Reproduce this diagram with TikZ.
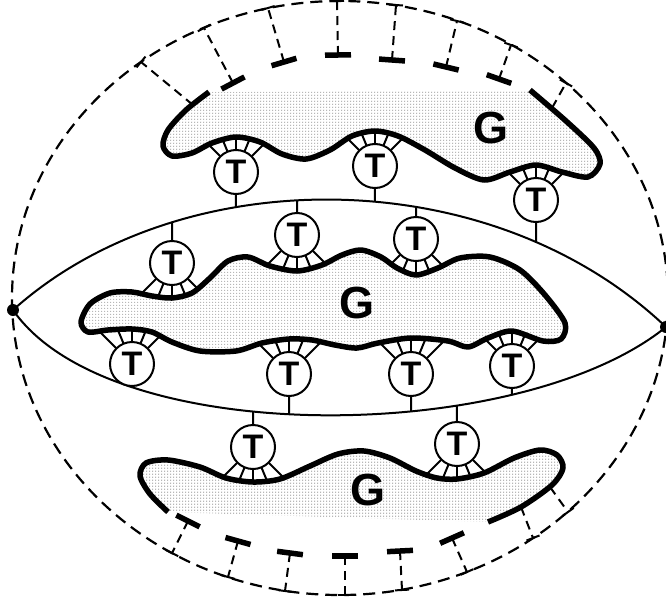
\documentclass[tikz,border=0pt]{standalone}
\usepackage{fontspec}
\setmainfont{Liberation Sans}
\usetikzlibrary{calc,intersections,patterns}

\tikzset{every picture/.style={line width=0.75pt}}
\pgfdeclarepatternformonly{stipple}{\pgfqpoint{-1pt}{-1pt}}{\pgfqpoint{2pt}{2pt}}{\pgfqpoint{3pt}{3pt}}{%
    \pgfpathcircle{\pgfqpoint{0pt}{0pt}}{0.65pt}\pgfusepath{fill}}

\begin{document}
\begin{tikzpicture}[
    x=1pt, y=-1pt,
    tcell/.style={circle, draw, line width=2pt, fill=white, minimum size=44pt,
        inner sep=0pt, font=\fontsize{34}{34}\selectfont\bfseries},
    glabel/.style={inner sep=0pt, font=\fontsize{45}{45}\selectfont\bfseries},
    tip/.style={circle, fill, minimum size=12pt, inner sep=0pt},
    lens/.style={line width=2pt},
    stem/.style={line width=2pt},
    spoke/.style={line width=2pt},
    shell/.style={line width=2.2pt, dash pattern=on 12pt off 7pt},
    tether/.style={line width=2pt, dash pattern=on 9pt off 6pt},
    shellbar/.style={line width=2pt},
    recbar/.style={line width=5.5pt},
    blob/.style={draw, line width=5.5pt, line join=round,
        preaction={fill=white}, pattern=stipple, pattern color=black!80},
]

    \useasboundingbox (0,0) rectangle (666,605);

    % outer shell
    \draw[shell] (340,298) ellipse [x radius=328, y radius=297];

    % lens
    \node[tip] (dl) at (13,310) {};
    \node[tip] (dr) at (666,327) {};
    \draw[lens, name path=lensup] (dl.center) .. controls (180,160) and (490,160) .. (dr.center);
    \draw[lens, name path=lensdown] (dl.center) .. controls (110,450) and (520,445) .. (dr.center);

    % T cells
    \node[tcell] (t1) at (236,172) {T};
    \node[tcell] (t2) at (375,166) {T};
    \node[tcell] (t3) at (536,200) {T};
    \node[tcell] (t4) at (172,263) {T};
    \node[tcell] (t5) at (297,235) {T};
    \node[tcell] (t6) at (416,239) {T};
    \node[tcell] (t7) at (132,364) {T};
    \node[tcell] (t8) at (289,374) {T};
    \node[tcell] (t9) at (411,374) {T};
    \node[tcell] (t10) at (512,366) {T};
    \node[tcell] (t11) at (253,447) {T};
    \node[tcell] (t12) at (457,444) {T};

    % stems to the lens
    \foreach \t/\d/\l in {t1/60/up, t2/60/up, t3/60/up, t4/-60/up, t5/-60/up, t6/-60/up,
        t7/60/down, t8/60/down, t9/60/down, t10/60/down, t11/-60/down, t12/-60/down}{
        \path[name path=ray] (\t.center) -- ++(0,\d);
        \draw[stem, name intersections={of=ray and lens\l}] (\t) -- (intersection-1);
    }

    % spokes to the gel
    \foreach \t/\s in {t1/-1, t2/-1, t3/-1, t4/1, t5/1, t6/1,
        t7/-1, t8/-1, t9/-1, t10/-1, t11/1, t12/1}
        \foreach \a in {45,67.5,90,112.5,135}
            \draw[spoke] (\t.center) ++({\s*\a}:22.5) -- ++({\s*\a}:30);

    % gels
    \path[blob] plot[smooth] coordinates {(209,92) (186,110) (168,130) (163,146) (172,156)
        (192,153) (212,143) (236,137) (260,142) (282,154) (306,159) (330,150) (352,136)
        (375,131) (398,136) (425,150) (455,168) (484,180) (510,172) (536,165) (562,172)
        (588,177) (600,164) (594,148) (566,121) (530,90)};
    \path[blob] plot[smooth cycle] coordinates {(81,322) (90,304) (110,293) (132,292)
        (152,296) (172,298) (192,293) (210,278) (228,261) (248,257) (270,266) (297,271)
        (322,265) (342,255) (361,250) (381,257) (397,268) (416,275) (438,268) (460,258)
        (490,257) (520,270) (545,295) (565,323) (561,339) (543,341) (512,331) (488,338)
        (468,347) (448,341) (411,338) (378,343) (357,348) (335,345) (312,340) (289,339)
        (262,343) (236,351) (200,351) (172,342) (152,332) (132,329) (108,330) (88,332)};
    \path[blob] plot[smooth] coordinates {(168,512) (150,494) (140,476) (146,463) (168,460)
        (200,467) (226,478) (253,482) (280,479) (310,466) (338,454) (364,451) (390,458)
        (416,471) (437,478) (457,479) (484,473) (514,458) (540,450) (557,455) (563,468)
        (552,485) (521,507) (488,522)};

    \node[glabel] (g1) at (491,128) {G};
    \node[glabel] (g2) at (357,303) {G};
    \node[glabel] (g3) at (368,490) {G};

    % tethers from the gel edge to the shell
    \foreach \ix/\iy/\ox/\oy/\k in {
        193/105/141/62/0, 233/83/204/28/1, 284/62/268/8/1, 338/55/337/1/1,
        392/60/396/5/1, 446/67/457/21/1, 499/79/511/45/1, 552/108/566/83/0,
        188/521/172/553/1, 238/541/228/577/1, 290/553/285/591/1, 345/556/345/595/1,
        400/551/402/590/1, 452/538/467/572/1, 521/507/533/538/0, 550/487/568/512/0}{
        \coordinate (rin) at (\ix,\iy);
        \coordinate (rout) at (\ox,\oy);
        \draw[tether] (rin) -- (rout);
        \draw[shellbar] ($(rout)!7pt!90:(rin)$) -- ($(rout)!7pt!-90:(rin)$);
        \ifnum\k=1
            \draw[recbar] ($(rin)!13pt!90:(rout)$) -- ($(rin)!13pt!-90:(rout)$);
        \fi
    }

\end{tikzpicture}
\end{document}
